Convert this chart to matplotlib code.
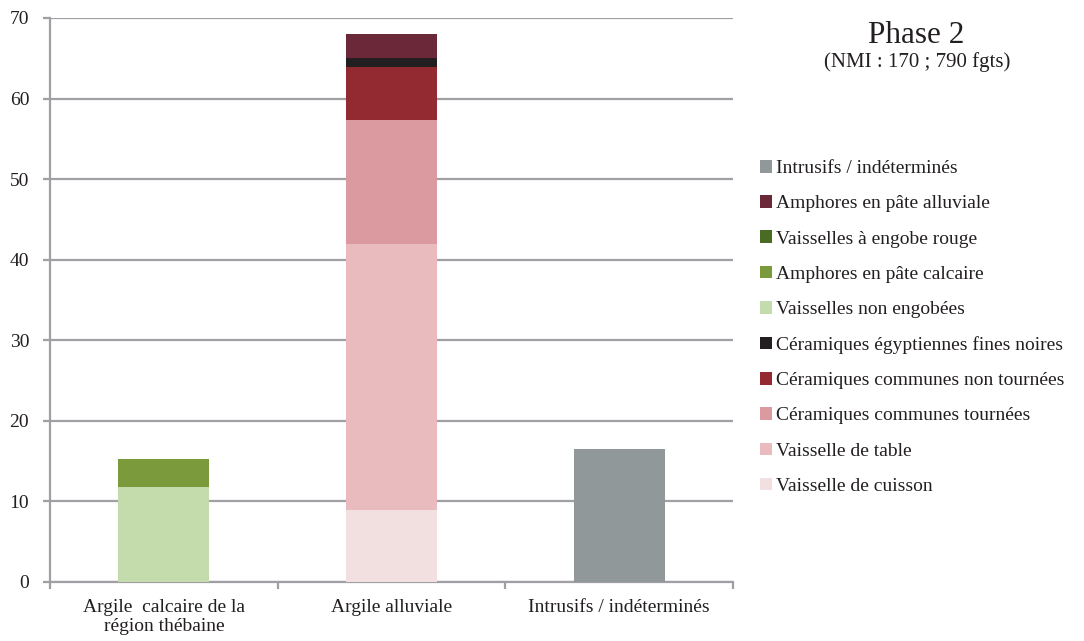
import numpy as np
import matplotlib.pyplot as plt
from matplotlib.patches import Patch

# ----------------------------
# Data (% of NMI per fabric group)
# ----------------------------
categories = ["Argile  calcaire de la\nrégion thébaine", "Argile alluviale", "Intrusifs / indéterminés"]

# stacking order, bottom to top
series_names = [
    "Vaisselle de cuisson",
    "Vaisselle de table",
    "Céramiques communes tournées",
    "Céramiques communes non tournées",
    "Céramiques égyptiennes fines noires",
    "Vaisselles non engobées",
    "Amphores en pâte calcaire",
    "Vaisselles à engobe rouge",
    "Amphores en pâte alluviale",
    "Intrusifs / indéterminés",
]
cuisson = [0, 8.9, 0]
table = [0, 33.1, 0]
communes_tournees = [0, 15.4, 0]
communes_non_tournees = [0, 6.5, 0]
fines_noires = [0, 1.1, 0]
non_engobees = [11.8, 0, 0]
amphores_calcaire = [3.5, 0, 0]
engobe_rouge = [0, 0, 0]
amphores_alluviale = [0, 3.0, 0]
intrusifs = [0, 0, 16.5]

series_values = [cuisson, table, communes_tournees, communes_non_tournees, fines_noires,
                 non_engobees, amphores_calcaire, engobe_rouge, amphores_alluviale, intrusifs]
series_colors = ["#F2DFE0", "#E9BBBF", "#DB9AA0", "#932A31", "#231F20",
                 "#C4DCAC", "#7B9A3C", "#4A6B24", "#6B2838", "#909899"]

# ----------------------------
# Figure
# ----------------------------
plt.rcParams["font.family"] = ["Liberation Serif", "DejaVu Serif"]
text_color = "#231F20"
axis_gray = "#A0A0A4"
fs = 14

fig = plt.figure(figsize=(10.84, 6.41), dpi=100)
ax = fig.add_axes([50 / 1084, 1 - 582 / 641, 683 / 1084, 564 / 641])

x = np.arange(len(categories))
bottom = np.zeros(len(categories))
for vals, color in zip(series_values, series_colors):
    ax.bar(x, vals, width=0.40, bottom=bottom, color=color, edgecolor="none", zorder=3)
    bottom += np.array(vals)

ax.set_xlim(-0.5, 2.5)
ax.set_ylim(0, 70)
ax.set_yticks(np.arange(0, 71, 10))
ax.yaxis.grid(True, color=axis_gray, linewidth=1.6, zorder=0)
ax.set_axisbelow(True)

for side in ["top", "right"]:
    ax.spines[side].set_visible(False)
for side in ["left", "bottom"]:
    ax.spines[side].set_color(axis_gray)
    ax.spines[side].set_linewidth(1.6)

ax.tick_params(axis="y", length=5, width=1.6, color=axis_gray, labelsize=fs,
               labelcolor=text_color, pad=10)
ax.set_xticks(x)
ax.set_xticklabels(categories, fontsize=fs, color=text_color, linespacing=1.2)
ax.tick_params(axis="x", length=0, pad=12)
ax.set_xticks([-0.5, 0.5, 1.5, 2.5], minor=True)
ax.tick_params(axis="x", which="minor", length=5, width=1.6, color=axis_gray)

# title block
fig.text(916 / 1084, 1 - 43 / 641, "Phase 2", fontsize=22.5, color=text_color, ha="center", va="baseline")
fig.text(917 / 1084, 1 - 67 / 641, "(NMI : 170 ; 790 fgts)", fontsize=15, color=text_color,
         ha="center", va="baseline")

# legend, reversed stacking order
handles = [Patch(facecolor=c, edgecolor="none") for c in series_colors][::-1]
labels = series_names[::-1]
fig.legend(handles, labels, loc="upper left", bbox_to_anchor=(760 / 1084, 1 - 160 / 641),
           bbox_transform=fig.transFigure, frameon=False, fontsize=fs, labelcolor=text_color,
           handlelength=0.62, handleheight=0.62, handletextpad=0.2, labelspacing=0.93,
           borderpad=0, borderaxespad=0)

fig.savefig("out.png", dpi=100)
